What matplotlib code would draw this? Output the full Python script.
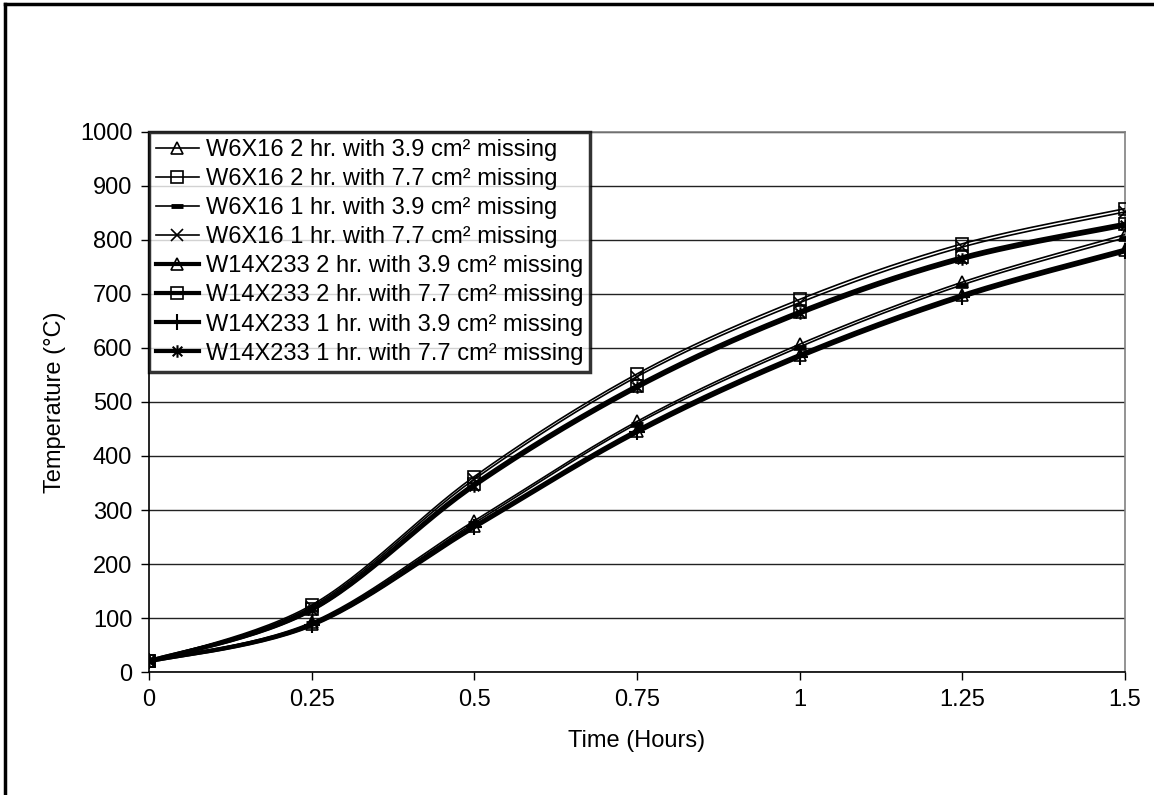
import numpy as np
import matplotlib
matplotlib.use("Agg")
import matplotlib.pyplot as plt
from matplotlib.path import Path
from matplotlib.lines import Line2D

plt.rcParams["font.family"] = ["Liberation Sans", "DejaVu Sans"]

# time in hours
hours = [0, 0.25, 0.5, 0.75, 1.0, 1.25, 1.5]

w6_2hr_39 = [20, 92, 280, 464, 607, 722, 810]
w6_2hr_77 = [20, 124, 362, 552, 690, 793, 858]
w6_1hr_39 = [20, 90, 276, 460, 602, 717, 804]
w6_1hr_77 = [20, 121, 357, 547, 684, 787, 852]
w14_2hr_39 = [20, 88, 270, 447, 587, 698, 782]
w14_2hr_77 = [20, 116, 348, 530, 667, 768, 830]
w14_1hr_39 = [20, 87, 268, 444, 584, 695, 779]
w14_1hr_77 = [20, 115, 345, 527, 664, 765, 827]

labels = [
    "W6X16 2 hr. with 3.9 cm² missing",
    "W6X16 2 hr. with 7.7 cm² missing",
    "W6X16 1 hr. with 3.9 cm² missing",
    "W6X16 1 hr. with 7.7 cm² missing",
    "W14X233 2 hr. with 3.9 cm² missing",
    "W14X233 2 hr. with 7.7 cm² missing",
    "W14X233 1 hr. with 3.9 cm² missing",
    "W14X233 1 hr. with 7.7 cm² missing",
]
series = [w6_2hr_39, w6_2hr_77, w6_1hr_39, w6_1hr_77,
          w14_2hr_39, w14_2hr_77, w14_1hr_39, w14_1hr_77]

# excel style asterisk: x plus vertical bar
star = Path([(-1, -1), (1, 1), (-1, 1), (1, -1), (0, -1.3), (0, 1.3)],
            [Path.MOVETO, Path.LINETO, Path.MOVETO, Path.LINETO, Path.MOVETO, Path.LINETO])

styles = [
    dict(marker="^", lw=1.2, ms=9, mew=1.2),
    dict(marker="s", lw=1.2, ms=9, mew=1.2),
    dict(marker="_", lw=1.2, ms=9, mew=3.5),
    dict(marker="x", lw=1.2, ms=8, mew=1.2),
    dict(marker="^", lw=3.0, ms=9, mew=1.2),
    dict(marker="s", lw=3.0, ms=9, mew=1.2),
    dict(marker="+", lw=3.0, ms=11, mew=1.5),
    dict(marker=star, lw=3.0, ms=9, mew=1.5),
]


def smooth(x, y, n=30):
    # catmull-rom like excel's smoothed line
    x = np.asarray(x, float)
    y = np.asarray(y, float)
    px = np.r_[x[0], x, x[-1]]
    py = np.r_[y[0], y, y[-1]]
    xs, ys = [], []
    t = np.linspace(0, 1, n)
    for i in range(1, len(px) - 2):
        p0 = np.array([px[i], py[i]])
        p3 = np.array([px[i + 1], py[i + 1]])
        c1 = p0 + (np.array([px[i + 1], py[i + 1]]) - np.array([px[i - 1], py[i - 1]])) / 6
        c2 = p3 - (np.array([px[i + 2], py[i + 2]]) - np.array([px[i], py[i]])) / 6
        b = ((1 - t) ** 3)[:, None] * p0 + (3 * (1 - t) ** 2 * t)[:, None] * c1 \
            + (3 * (1 - t) * t ** 2)[:, None] * c2 + (t ** 3)[:, None] * p3
        xs.append(b[:, 0])
        ys.append(b[:, 1])
    return np.concatenate(xs), np.concatenate(ys)


fig = plt.figure(figsize=(11.54, 7.95), dpi=100)
ax = fig.add_axes([0.1291, 0.1547, 0.8458, 0.6793])

handles = []
for vals, st, lab in zip(series, styles, labels):
    sx, sy = smooth(hours, vals)
    ax.plot(sx, sy, color="black", lw=st["lw"], solid_capstyle="butt", zorder=3)
    ax.plot(hours, vals, ls="none", marker=st["marker"], ms=st["ms"], mew=st["mew"],
            mec="black", mfc="none", zorder=4)
    handles.append(Line2D([], [], color="black", lw=st["lw"], marker=st["marker"],
                          ms=st["ms"], mew=st["mew"], mec="black", mfc="none"))

ax.set_xlim(0, 1.5)
ax.set_ylim(0, 1000)
ax.set_xticks(hours)
ax.set_xticklabels(["0", "0.25", "0.5", "0.75", "1", "1.25", "1.5"])
ax.set_yticks(np.arange(0, 1001, 100))
ax.tick_params(labelsize=17, length=6, width=1, direction="out", pad=6)
ax.yaxis.grid(True, color="#222222", lw=1)
ax.set_axisbelow(True)
for side in ["top", "right"]:
    ax.spines[side].set_color("#808080")
    ax.spines[side].set_linewidth(1.2)
for side in ["left", "bottom"]:
    ax.spines[side].set_linewidth(1.2)

ax.set_xlabel("Time (Hours)", fontsize=17, labelpad=14)
ax.set_ylabel("Temperature (°C)", fontsize=17, labelpad=10)

leg = ax.legend(handles, labels, loc="upper left", bbox_to_anchor=(0, 1), borderaxespad=0,
                fontsize=17, frameon=True, fancybox=False, handlelength=1.8,
                handletextpad=0.3, labelspacing=0.3, borderpad=0.3)
leg.get_frame().set_edgecolor("black")
leg.get_frame().set_linewidth(2.5)
leg.set_zorder(10)

# outer chart border
fig.add_artist(Line2D([0.0045, 0.0045], [0, 0.9945], transform=fig.transFigure, color="black", lw=2.5))
fig.add_artist(Line2D([0.0045, 1], [0.9945, 0.9945], transform=fig.transFigure, color="black", lw=2.5))

fig.savefig("out.png", dpi=100)
